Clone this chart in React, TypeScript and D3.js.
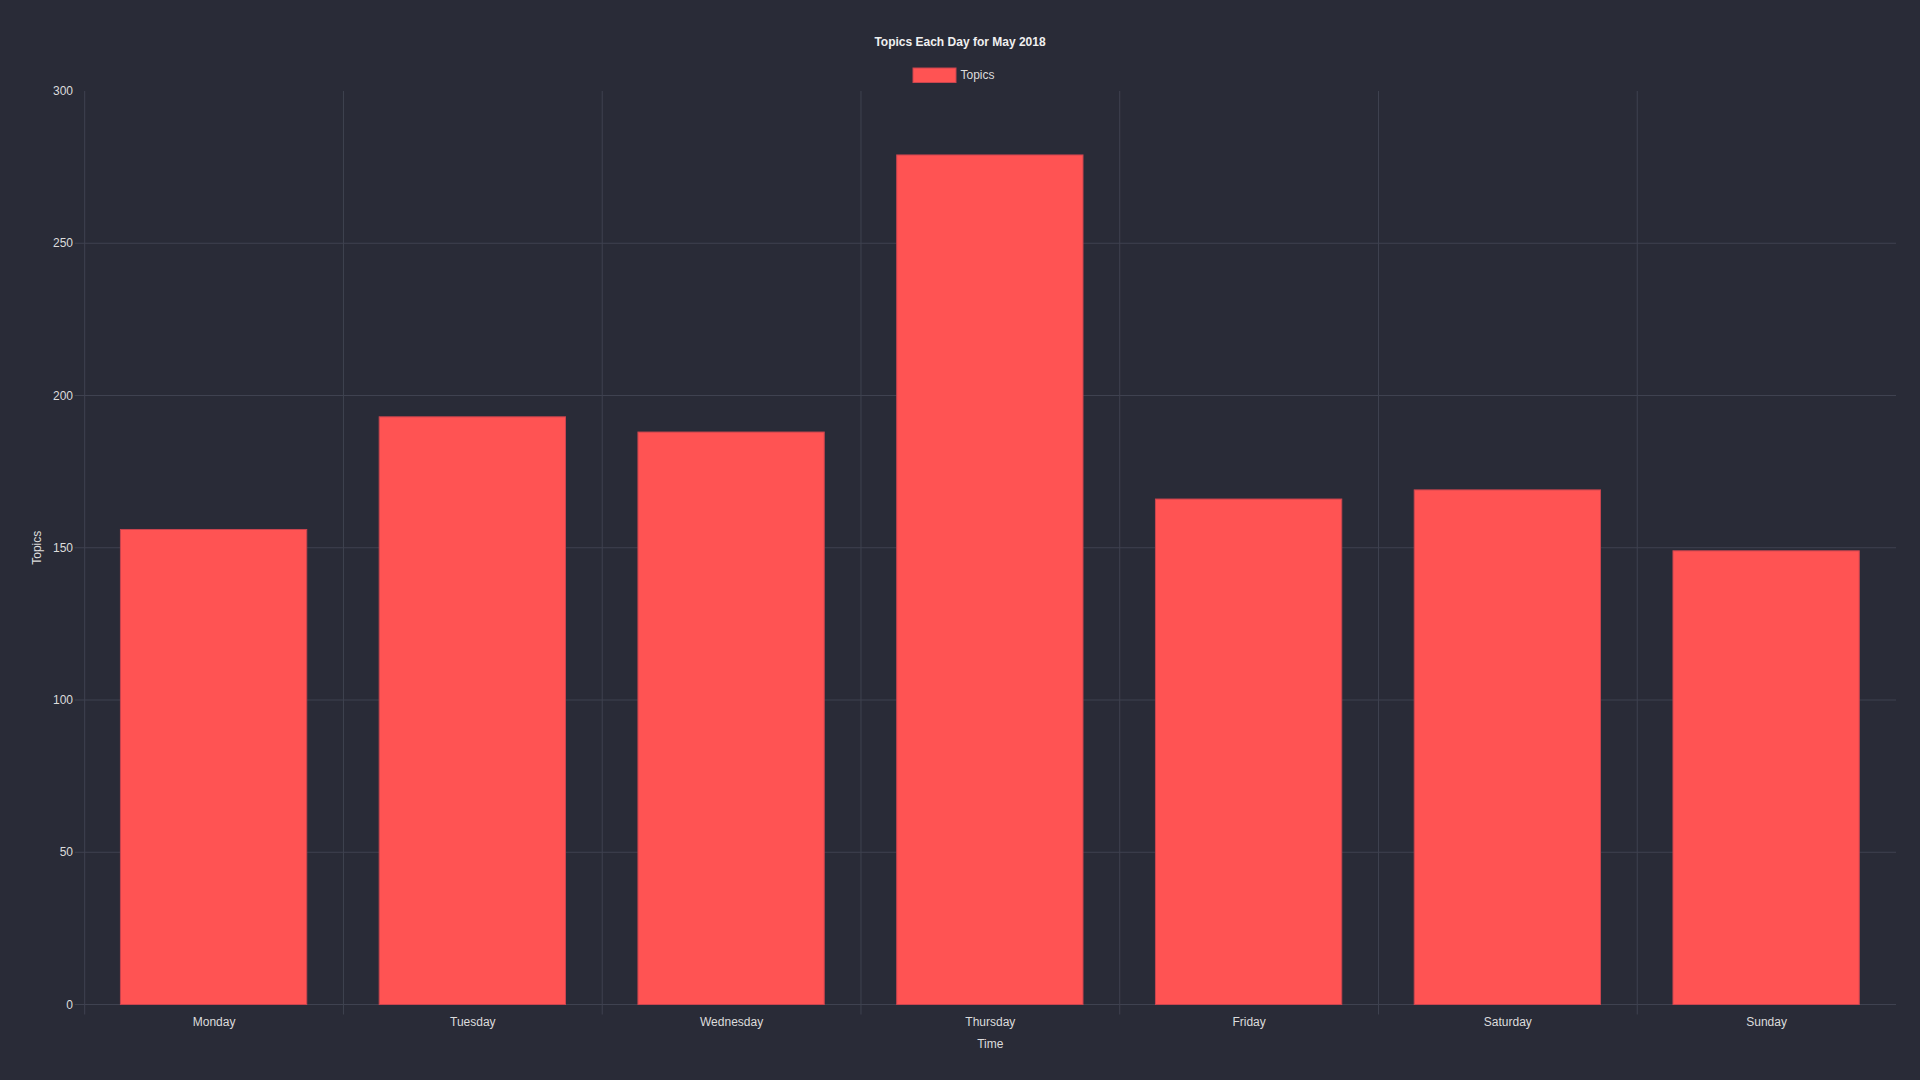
import React from "react";
import * as d3 from "d3";

const days = ["Monday", "Tuesday", "Wednesday", "Thursday", "Friday", "Saturday", "Sunday"];
const topics = [156, 193, 188, 279, 166, 169, 149];
const yTicks = [0, 50, 100, 150, 200, 250, 300];

const W = 1920;
const H = 1080;
const left = 84.7;
const right = 1896;
const top = 91;
const bottom = 1004.5;
const FONT = "'Liberation Sans', Arial, Helvetica, sans-serif";
const BG = "#292b37";
const GRID = "#3f4250";
const TEXT = "#dcdcdc";

export default function App() {
  const x = d3.scaleBand<string>().domain(days).range([left, right]).paddingInner(0).paddingOuter(0);
  const y = d3.scaleLinear().domain([0, 300]).range([bottom, top]);
  const bw = x.bandwidth();
  const barW = bw * 0.72;

  return (
    <svg
      width={W}
      height={H}
      style={{ position: "fixed", left: 0, top: 0, display: "block", background: BG }}
      fontFamily={FONT}
    >
      <rect x={0} y={0} width={W} height={H} fill={BG} />
      {/* horizontal grid */}
      {yTicks.filter((t) => t !== 300).map((t) => (
        <line key={"h" + t} x1={left - 10} x2={right} y1={y(t)} y2={y(t)} stroke={GRID} strokeWidth={1} />
      ))}
      {/* vertical grid */}
      {days.map((d) => (
        <line key={"v" + d} x1={x(d)!} x2={x(d)!} y1={top} y2={bottom + 10} stroke={GRID} strokeWidth={1} />
      ))}
      {/* bars */}
      {days.map((d, i) => (
        <rect
          key={"b" + d}
          x={x(d)! + (bw - barW) / 2 - 0.5}
          y={y(topics[i])}
          width={barW}
          height={y(0) - y(topics[i])}
          fill="#ff5353"
          stroke="#c9454f"
          strokeWidth={1}
        />
      ))}
      {/* y tick labels */}
      {yTicks.map((t) => (
        <text
          key={"yt" + t}
          x={73}
          y={y(t)}
          dy="0.35em"
          textAnchor="end"
          fontSize={12}
          fill={TEXT}
        >
          {t}
        </text>
      ))}
      {/* x tick labels */}
      {days.map((d) => (
        <text key={"xt" + d} x={x(d)! + bw / 2} y={1026} textAnchor="middle" fontSize={12} fill={TEXT}>
          {d}
        </text>
      ))}
      {/* axis titles */}
      <text x={(left + right) / 2} y={1047.5} textAnchor="middle" fontSize={12} fill={TEXT}>
        Time
      </text>
      <text
        transform={`translate(40.5, ${(top + bottom) / 2}) rotate(-90)`}
        textAnchor="middle"
        fontSize={12}
        fill={TEXT}
      >
        Topics
      </text>
      {/* title */}
      <text x={960} y={46} textAnchor="middle" fontSize={12} fontWeight="bold" fill="#f0f0f0">
        Topics Each Day for May 2018
      </text>
      {/* legend */}
      <rect x={913} y={68} width={43} height={14.5} fill="#ff5353" stroke="#c9454f" strokeWidth={1} />
      <text x={960.5} y={75} dy="0.35em" fontSize={12} fill={TEXT}>
        Topics
      </text>
    </svg>
  );
}
